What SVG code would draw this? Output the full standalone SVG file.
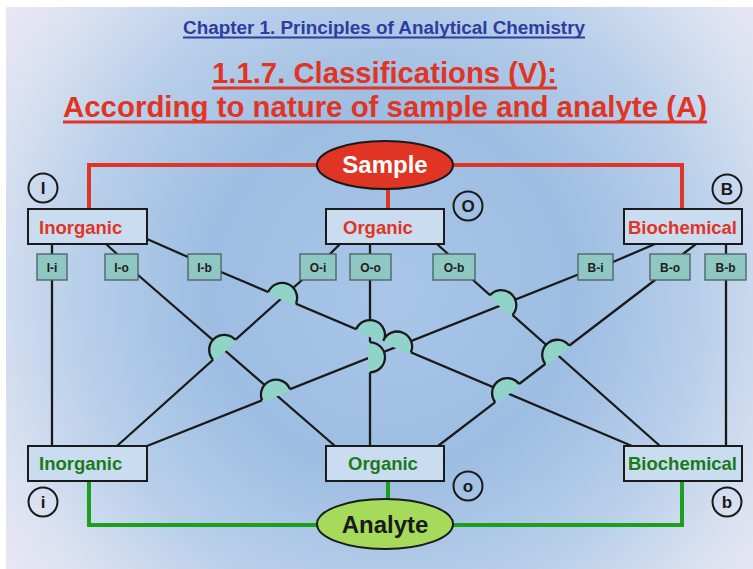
<svg xmlns="http://www.w3.org/2000/svg" xmlns:xlink="http://www.w3.org/1999/xlink" width="753" height="569" viewBox="0 0 753 569">
<defs>
<radialGradient id="bg" cx="390" cy="290" r="520" gradientUnits="userSpaceOnUse">
<stop offset="0" stop-color="#a9c6e8"/>
<stop offset="0.35" stop-color="#9dbde2"/>
<stop offset="0.6" stop-color="#b8cfea"/>
<stop offset="0.8" stop-color="#dbe2f1"/>
<stop offset="1" stop-color="#f6e8f6"/>
</radialGradient>
<g id="hop">
<path d="M-15,0 A15,15 0 0 1 15,0 L15,2 L-15,2 Z" fill="#8fd3c9"/>
<path d="M-15,0 A15,15 0 0 1 15,0" fill="none" stroke="#1a1a1a" stroke-width="2.3"/>
</g>
<style>
.t{font-family:"Liberation Sans",Arial,sans-serif;font-weight:bold}
.box{fill:#cadcf0;stroke:#1a1a1a;stroke-width:2}
.sb{fill:#8fc7c2;stroke:#4d5d62;stroke-width:1.3}
.sbt{font-family:"Liberation Sans",Arial,sans-serif;font-weight:bold;font-size:12px;fill:#1e1e1e;text-anchor:middle}
.ln{stroke:#1a1a1a;stroke-width:2.3;fill:none;stroke-linecap:round}
.red{stroke:#e03424;stroke-width:4;fill:none}
.grn{stroke:#1aa01a;stroke-width:4;fill:none}
.circ{fill:none;stroke:#1a1a1a;stroke-width:2}
.ct{font-family:"Liberation Sans",Arial,sans-serif;font-weight:bold;font-size:17px;fill:#1a1a1a;text-anchor:middle}
.rt{font-family:"Liberation Sans",Arial,sans-serif;font-weight:bold;font-size:18.5px;fill:#e03424}
.gt{font-family:"Liberation Sans",Arial,sans-serif;font-weight:bold;font-size:18.5px;fill:#1a7a1a}
</style>
</defs>
<rect x="0" y="0" width="753" height="569" fill="#ffffff"/>
<rect x="6" y="7" width="747" height="562" fill="url(#bg)"/>

<g id="titles">
<text class="t" x="384" y="34" font-size="18" fill="#2e3d9e" text-anchor="middle" textLength="402" lengthAdjust="spacingAndGlyphs">Chapter 1. Principles of Analytical Chemistry</text>
<line x1="183" y1="37.5" x2="585" y2="37.5" stroke="#2e3d9e" stroke-width="2"/>
<text class="t" x="384.5" y="83" font-size="29" fill="#e03424" text-anchor="middle" textLength="345" lengthAdjust="spacingAndGlyphs">1.1.7. Classifications (V):</text>
<line x1="212" y1="88" x2="557" y2="88" stroke="#e03424" stroke-width="3"/>
<text class="t" x="385" y="117" font-size="29" fill="#e03424" text-anchor="middle" textLength="644" lengthAdjust="spacingAndGlyphs">According to nature of sample and analyte (A)</text>
<line x1="63" y1="122" x2="707" y2="122" stroke="#e03424" stroke-width="3"/>
</g>

<g id="connectors">
<path class="red" d="M317,165 H89 V209 M453,165 H682 V209 M388,185 V209"/>
<path class="grn" d="M89,481 V525 H317 M453,525 H682 V481 M388,481 V501"/>
<path class="ln" d="M52,244 V254 M106,244 L117,254 M147,239 L188,257 M340,244 L330,254 M370,244 V254 M437,244 L448,254 M655,244 L613,262 M696,244 L683,254 M726,244 V254"/>
<path class="ln" d="M52,280 V446 M726,280 V446"/>
<path class="ln" d="M138,275 L335,446"/>
<path class="ln" d="M221,272 L632,446"/>
<path class="ln" d="M302,280 L117,446"/>
<path class="ln" d="M370,280 V446"/>
<path class="ln" d="M473,280 L660,446"/>
<path class="ln" d="M577,275 L147,446"/>
<path class="ln" d="M655,280 L438,446"/>
<g id="hops">
<use xlink:href="#hop" href="#hop" transform="translate(282.09,297.86) rotate(22.94)"/>
<use xlink:href="#hop" href="#hop" transform="translate(224.2,349.8) rotate(-41.9)"/>
<use xlink:href="#hop" href="#hop" transform="translate(275.95,394.7) rotate(-21.68)"/>
<use xlink:href="#hop" href="#hop" transform="translate(370,357.3) rotate(90)"/>
<use xlink:href="#hop" href="#hop" transform="translate(370,335.08) rotate(22.94)"/>
<use xlink:href="#hop" href="#hop" transform="translate(397.09,346.55) rotate(22.94)"/>
<use xlink:href="#hop" href="#hop" transform="translate(501.29,305.11) rotate(41.6)"/>
<use xlink:href="#hop" href="#hop" transform="translate(557.24,354.78) rotate(-37.42)"/>
<use xlink:href="#hop" href="#hop" transform="translate(507.11,393.13) rotate(-37.42)"/>
</g>
</g>

<g id="sample">
<ellipse cx="385" cy="165" rx="68" ry="24" fill="#e03424" stroke="#1a1a1a" stroke-width="2"/>
<text class="t" x="385" y="173" font-size="24" fill="#ffffff" text-anchor="middle">Sample</text>
</g>
<g id="analyte">
<ellipse cx="385" cy="524" rx="68" ry="25" fill="#a6da5a" stroke="#1a1a1a" stroke-width="2"/>
<text class="t" x="385" y="533" font-size="24" fill="#1a1a1a" text-anchor="middle">Analyte</text>
</g>

<g id="s-inorganic"><rect class="box" x="28" y="209" width="119" height="35"/><text class="rt" x="39" y="234">Inorganic</text></g>
<g id="s-organic"><rect class="box" x="326" y="209" width="118" height="35"/><text class="rt" x="343" y="234">Organic</text></g>
<g id="s-biochemical"><rect class="box" x="624" y="209" width="118" height="35"/><text class="rt" x="628" y="234">Biochemical</text></g>

<g id="a-inorganic"><rect class="box" x="28" y="446" width="119" height="35"/><text class="gt" x="39" y="470">Inorganic</text></g>
<g id="a-organic"><rect class="box" x="326" y="446" width="118" height="35"/><text class="gt" x="348" y="470">Organic</text></g>
<g id="a-biochemical"><rect class="box" x="624" y="446" width="118" height="35"/><text class="gt" x="628" y="470">Biochemical</text></g>

<g id="Ii"><rect class="sb" x="37" y="254" width="30" height="26"/><text class="sbt" x="52" y="271.5">I-i</text></g>
<g id="Io"><rect class="sb" x="105" y="254" width="33" height="26"/><text class="sbt" x="121.5" y="271.5">I-o</text></g>
<g id="Ib"><rect class="sb" x="188" y="254" width="33" height="26"/><text class="sbt" x="204.5" y="271.5">I-b</text></g>
<g id="Oi"><rect class="sb" x="300" y="254" width="36" height="26"/><text class="sbt" x="318" y="271.5">O-i</text></g>
<g id="Oo"><rect class="sb" x="350" y="254" width="41" height="26"/><text class="sbt" x="370.5" y="271.5">O-o</text></g>
<g id="Ob"><rect class="sb" x="433" y="254" width="42" height="26"/><text class="sbt" x="454" y="271.5">O-b</text></g>
<g id="Bi"><rect class="sb" x="578" y="254" width="35" height="26"/><text class="sbt" x="595.5" y="271.5">B-i</text></g>
<g id="Bo"><rect class="sb" x="650" y="254" width="40" height="26"/><text class="sbt" x="670" y="271.5">B-o</text></g>
<g id="Bb"><rect class="sb" x="705" y="254" width="41" height="26"/><text class="sbt" x="725.5" y="271.5">B-b</text></g>

<g id="c-I"><circle class="circ" cx="43" cy="188" r="14.5"/><text class="ct" x="43" y="194">I</text></g>
<g id="c-O"><circle class="circ" cx="468" cy="206" r="14.5"/><text class="ct" x="468" y="212">O</text></g>
<g id="c-B"><circle class="circ" cx="727" cy="189" r="14.5"/><text class="ct" x="727" y="195">B</text></g>
<g id="c-i"><circle class="circ" cx="43" cy="502" r="14.5"/><text class="ct" x="43" y="508">i</text></g>
<g id="c-o"><circle class="circ" cx="468" cy="486" r="14.5"/><text class="ct" x="468" y="492">o</text></g>
<g id="c-b"><circle class="circ" cx="727" cy="502" r="14.5"/><text class="ct" x="727" y="508">b</text></g>
</svg>
